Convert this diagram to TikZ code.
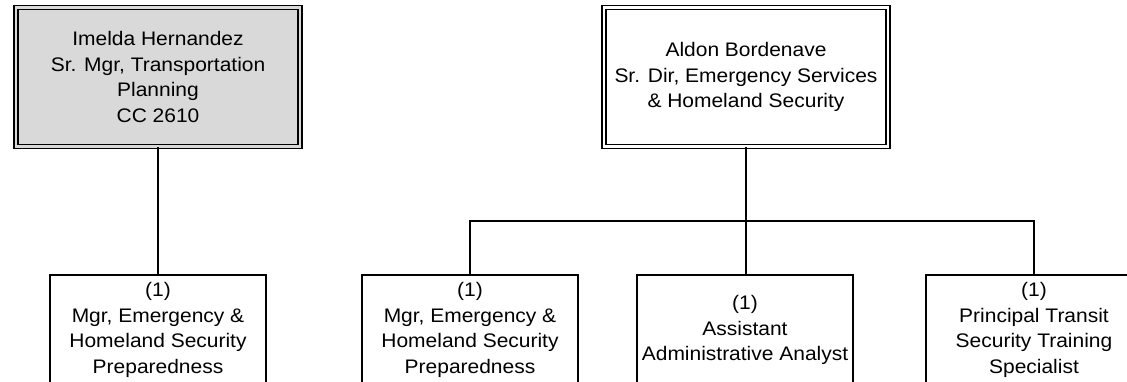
\documentclass[tikz,border=0pt]{standalone}
\usepackage{fontspec}
\setmainfont{Liberation Sans}[FakeStretch=1.07]
\definecolor{boxgray}{HTML}{D9D9D9}
\begin{document}
\begin{tikzpicture}[x=1pt,y=-1pt,
  every node/.style={font=\fontsize{19.6}{25.5}\selectfont, align=center, inner sep=2pt},
  headbox/.style={draw, line width=1.5pt, double distance=2.2pt, rectangle,
    minimum width=284pt, minimum height=139pt},
  posbox/.style={draw, line width=2pt, rectangle, fill=white,
    minimum width=216pt, minimum height=110pt},
  link/.style={line width=2pt}]
\useasboundingbox (0,0) rectangle (1127,381);
\clip (0,0) rectangle (1127,381);
\node[headbox, fill=boxgray, double=boxgray] (L) at (158,77) {Imelda Hernandez\\Sr. Mgr, Transportation\\Planning\\CC 2610};
\node[headbox, fill=white, double=white] (R) at (746,77) {Aldon Bordenave\\Sr. Dir, Emergency Services\\\& Homeland Security};
\coordinate (bar) at (746,221);
\node[posbox] (c1) at (158,330) {(1)\\Mgr, Emergency \&\\Homeland Security\\Preparedness};
\node[posbox] (c2) at (470,330) {(1)\\Mgr, Emergency \&\\Homeland Security\\Preparedness};
\node[posbox] (c3) at (745,330) {(1)\\Assistant\\Administrative Analyst};
\node[posbox] (c4) at (1034,330) {(1)\\Principal Transit\\Security Training\\Specialist};
\draw[link] (L) -- (c1);
\draw[link] (R) -- (bar);
\draw[link] (c2.north) |- (bar) -| (c4.north);
\draw[link] (bar) -- (bar |- c3.north);
\end{tikzpicture}
\end{document}
